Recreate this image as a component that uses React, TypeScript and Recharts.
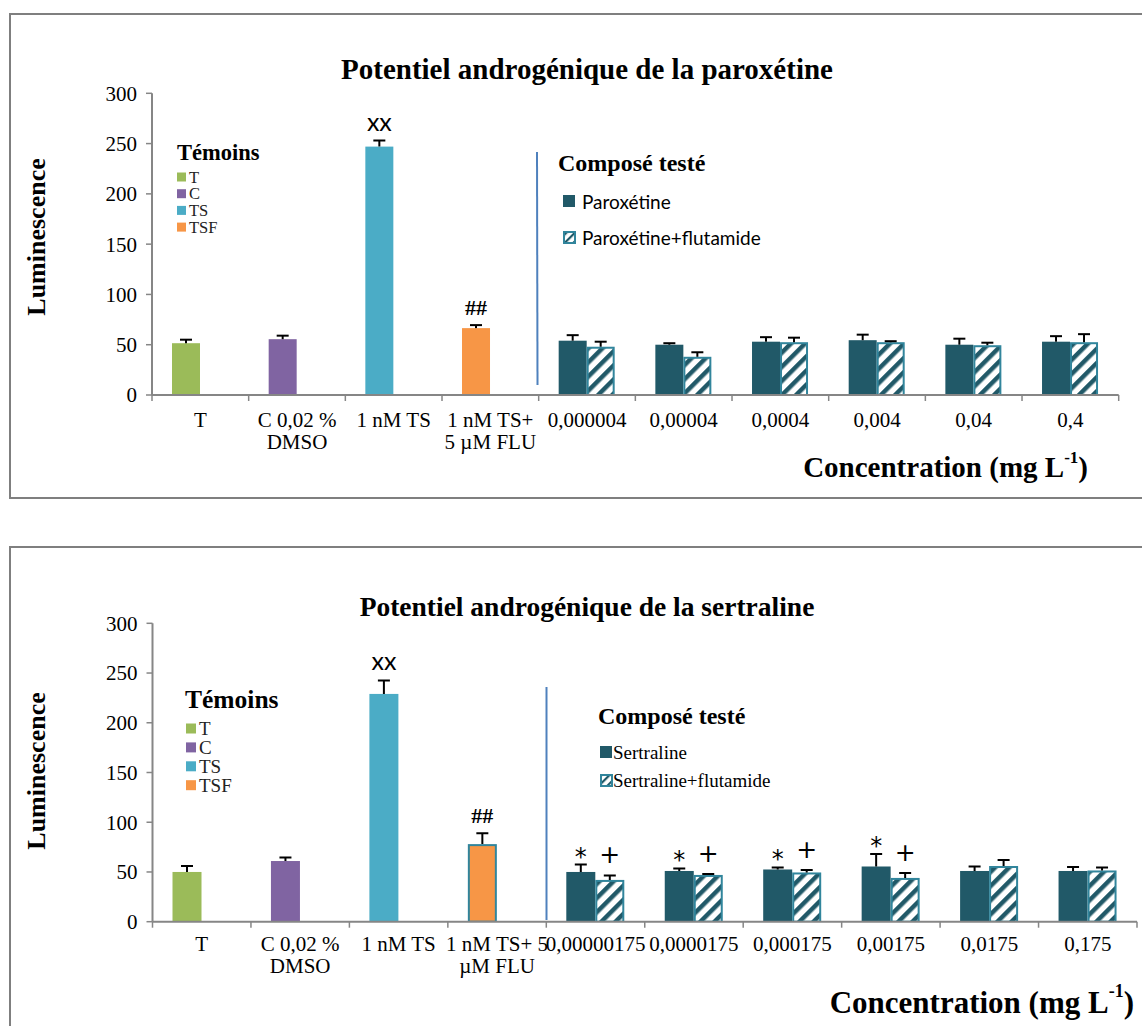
import React from 'react';
import { BarChart, Bar, XAxis, YAxis, Cell } from 'recharts';

// ---------- DATA ----------
const parCategories = ['T', 'C 0,02 %|DMSO', '1 nM TS', '1 nM TS+|5 µM FLU', '0,000004', '0,00004', '0,0004', '0,004', '0,04', '0,4'];
const parMain = [51.5, 55.5, 247, 66.5, 54, 50, 53, 54.5, 50, 53];
const parMainErr = [3.5, 3.5, 6, 3, 5.5, 1.5, 4.5, 5.5, 6, 5.5];
const parFlu = [null, null, null, null, 48, 38, 52.5, 52.5, 49.5, 52.5];
const parFluErr = [0, 0, 0, 0, 5, 4.5, 4.5, 1, 2.5, 8];
const parMainMarks = ['', '', 'xx', '##', '', '', '', '', '', ''];
const parFluMarks = ['', '', '', '', '', '', '', '', '', ''];

const serCategories = ['T', 'C 0,02 %|DMSO', '1 nM TS', '1 nM TS+ 5|µM FLU', '0,00000175', '0,0000175', '0,000175', '0,00175', '0,0175', '0,175'];
const serMain = [50, 61, 229, 78, 50, 51, 52.5, 55.5, 51, 51];
const serMainErr = [6, 3.5, 13.5, 11, 7.5, 2.5, 2, 12.5, 4.5, 4];
const serFlu = [null, null, null, null, 42, 47, 49.5, 44, 56, 51.5];
const serFluErr = [0, 0, 0, 0, 4.5, 1, 2.5, 5, 6, 3];
const serMainMarks = ['', '', 'xx', '##', '*', '*', '*', '*', '', ''];
const serFluMarks = ['', '', '', '', '+', '+', '+', '+', '', ''];

const yTicks = [0, 50, 100, 150, 200, 250, 300];
const controlLegend = ['T', 'C', 'TS', 'TSF'];

// ---------- STYLES ----------
const controlColors = ['#9bbb59', '#8064a2', '#4bacc6', '#f79646'];
const DARK = '#215968';
const TEAL = '#31859c';
const AXIS = '#868686';
const SERIF = '"Liberation Serif", "Times New Roman", serif';
const SANS = 'Lato, "Liberation Sans", sans-serif';
const SYM = '"DejaVu Sans", "Liberation Sans", sans-serif';

function buildRows(cats, main, mainErr, flu, fluErr, mainMarks, fluMarks) {
  return cats.map((c, i) => ({
    cat: c,
    main: main[i],
    mainErr: mainErr[i],
    flu: flu[i],
    fluErr: fluErr[i],
    mainMark: mainMarks[i],
    fluMark: fluMarks[i],
  }));
}

function markStyle(m) {
  if (m === '##') return { fontFamily: SERIF, fontWeight: 700, fontSize: 22, gap: 10 };
  if (m === 'xx') return { fontFamily: SANS, fontWeight: 400, fontSize: 25, gap: 10 };
  if (m === '*') return { fontFamily: SYM, fontWeight: 400, fontSize: 24, gap: 0 };
  return { fontFamily: SYM, fontWeight: 400, fontSize: 25, gap: 12 };
}

function makeShape(valueKey, errKey, markKey, fillFor, strokeFor) {
  return (props) => {
    const { x, y, width, height, payload, index } = props;
    const value = payload[valueKey];
    if (value == null || !height) return null;
    const pxPerUnit = height / value;
    const errPx = (payload[errKey] || 0) * pxPerUnit;
    const cx = x + width / 2;
    const capY = y - errPx;
    const fill = fillFor(index);
    const stroke = strokeFor(index);
    const mark = payload[markKey];
    const ms = markStyle(mark);
    return (
      <g>
        {stroke ? (
          <rect x={x + 1} y={y + 1} width={width - 2} height={height - 1} fill={fill} stroke={stroke} strokeWidth={2} />
        ) : (
          <rect x={x} y={y} width={width} height={height} fill={fill} />
        )}
        {errPx > 0 && (
          <g stroke="#000" strokeWidth={2}>
            <line x1={cx} y1={y} x2={cx} y2={capY} />
            <line x1={cx - 6} y1={capY} x2={cx + 6} y2={capY} />
          </g>
        )}
        {mark && (
          <text x={cx} y={capY - ms.gap} textAnchor="middle" fill="#000" fontFamily={ms.fontFamily} fontWeight={ms.fontWeight} fontSize={ms.fontSize}>
            {mark}
          </text>
        )}
      </g>
    );
  };
}

function CatTick(props) {
  const { x, y, payload, index, visibleTicksCount, lineGap, firstDy, fontSize } = props;
  const half = payload.offset || 0;
  const lines = String(payload.value).split('|');
  const last = index === visibleTicksCount - 1;
  return (
    <g>
      <line x1={x - half} y1={y} x2={x - half} y2={y + 6} stroke={AXIS} strokeWidth={1.5} />
      {last && <line x1={x + half} y1={y} x2={x + half} y2={y + 6} stroke={AXIS} strokeWidth={1.5} />}
      <text x={x} y={y + firstDy} textAnchor="middle" fill="#000" fontFamily={SERIF} fontSize={fontSize}>
        {lines.map((l, i) => (
          <tspan key={i} x={x} dy={i === 0 ? 0 : lineGap}>
            {l}
          </tspan>
        ))}
      </text>
    </g>
  );
}

function Panel({ top, height, plotTop, plotBottom, plotLeft, plotRight, rows, barSize, tickDy, orangeBorder }) {
  const yAxisWidth = 60;
  const xAxisHeight = 60;
  const margin = {
    top: plotTop,
    left: plotLeft - yAxisWidth,
    right: 1142 - plotRight,
    bottom: height - plotBottom - xAxisHeight,
  };
  const mainFill = (i) => (i < 4 ? controlColors[i] : DARK);
  const mainStroke = (i) => (orangeBorder && i === 3 ? TEAL : null);
  return (
    <div style={{ position: 'absolute', left: 0, top, width: 1142, height }}>
      <BarChart width={1142} height={height} data={rows} margin={margin} barGap={0} barSize={barSize}>
        <defs>
          <pattern id={'hatch' + top} width="10" height="10" patternUnits="userSpaceOnUse" patternTransform="rotate(45)">
            <rect width="10" height="10" fill="#fff" />
            <rect width="4.5" height="10" fill={DARK} />
          </pattern>
        </defs>
        <XAxis
          dataKey="cat"
          height={xAxisHeight}
          interval={0}
          tickLine={false}
          tickSize={0}
          tickMargin={0}
          axisLine={{ stroke: AXIS, strokeWidth: 2 }}
          tick={<CatTick lineGap={22} firstDy={tickDy} fontSize={21} />}
        />
        <YAxis
          width={yAxisWidth}
          domain={[0, 300]}
          ticks={yTicks}
          interval={0}
          allowDataOverflow
          axisLine={{ stroke: AXIS, strokeWidth: 2 }}
          tickLine={{ stroke: AXIS, strokeWidth: 1.5 }}
          tickSize={6}
          tickMargin={9}
          tick={{ fill: '#000', fontFamily: SERIF, fontSize: 21 }}
        />
        <Bar dataKey="main" isAnimationActive={false} shape={makeShape('main', 'mainErr', 'mainMark', mainFill, mainStroke)}>
          {rows.map((r, i) => (
            <Cell key={i} fill={mainFill(i)} />
          ))}
        </Bar>
        <Bar
          dataKey="flu"
          isAnimationActive={false}
          shape={makeShape('flu', 'fluErr', 'fluMark', () => `url(#hatch${top})`, () => TEAL)}
        />
      </BarChart>
    </div>
  );
}

function Overlay() {
  const legendItem = (x, y, size, color, label, fs) => (
    <g key={label + y}>
      <rect x={x} y={y - size / 2} width={size} height={size} fill={color} />
      <text x={x + size + 3} y={y} dominantBaseline="central" fontFamily={SERIF} fontSize={fs} fill="#222">
        {label}
      </text>
    </g>
  );
  return (
    <svg width={1142} height={1026} style={{ position: 'absolute', left: 0, top: 0, pointerEvents: 'none' }}>
      <defs>
        <pattern id="hatchLeg" width="6" height="6" patternUnits="userSpaceOnUse" patternTransform="rotate(45)">
          <rect width="6" height="6" fill="#fff" />
          <rect width="2.2" height="6" fill={DARK} />
        </pattern>
      </defs>
      {/* frames */}
      <rect x={10} y={14} width={1150} height={484} fill="none" stroke="#7f7f7f" strokeWidth={2} />
      <rect x={10} y={547} width={1150} height={500} fill="none" stroke="#7f7f7f" strokeWidth={2} />

      {/* ---- top panel ---- */}
      <text x={587} y={69} textAnchor="middle" dominantBaseline="central" fontFamily={SERIF} fontWeight={700} fontSize={29}>
        Potentiel androgénique de la paroxétine
      </text>
      <text transform="translate(36,237) rotate(-90)" textAnchor="middle" dominantBaseline="central" fontFamily={SERIF} fontWeight={700} fontSize={26}>
        Luminescence
      </text>
      <text x={1088} y={467} textAnchor="end" dominantBaseline="central" fontFamily={SERIF} fontWeight={700} fontSize={29}>
        Concentration (mg L<tspan dy={-10} fontSize={17}>-1</tspan><tspan dy={10}>)</tspan>
      </text>
      <text x={177} y={152} dominantBaseline="central" fontFamily={SERIF} fontWeight={700} fontSize={22.5}>
        Témoins
      </text>
      {controlLegend.map((l, i) => legendItem(177, 177 + i * 16.7, 9, controlColors[i], l, 16.5))}
      <line x1={537} y1={152} x2={537.5} y2={385} stroke="#4f81bd" strokeWidth={2} />
      <text x={558} y={163} dominantBaseline="central" fontFamily={SERIF} fontWeight={700} fontSize={24}>
        Composé testé
      </text>
      <rect x={563} y={195} width={12} height={12} fill={DARK} />
      <text x={582} y={201} dominantBaseline="central" fontFamily={SANS} fontSize={19}>
        Paroxétine
      </text>
      <rect x={564} y={232} width={11} height={11} fill="url(#hatchLeg)" stroke={TEAL} strokeWidth={2} />
      <text x={582} y={237} dominantBaseline="central" fontFamily={SANS} fontSize={19}>
        Paroxétine+flutamide
      </text>

      {/* ---- bottom panel ---- */}
      <text x={587} y={606} textAnchor="middle" dominantBaseline="central" fontFamily={SERIF} fontWeight={700} fontSize={27.5}>
        Potentiel androgénique de la sertraline
      </text>
      <text transform="translate(36,771) rotate(-90)" textAnchor="middle" dominantBaseline="central" fontFamily={SERIF} fontWeight={700} fontSize={26}>
        Luminescence
      </text>
      <text x={1134} y={1002} textAnchor="end" dominantBaseline="central" fontFamily={SERIF} fontWeight={700} fontSize={31}>
        Concentration (mg L<tspan dy={-11} fontSize={18}>-1</tspan><tspan dy={11}>)</tspan>
      </text>
      <text x={185} y={699} dominantBaseline="central" fontFamily={SERIF} fontWeight={700} fontSize={25.5}>
        Témoins
      </text>
      {controlLegend.map((l, i) => legendItem(186, 728.5 + i * 18.9, 10, controlColors[i], l, 19))}
      <line x1={546.5} y1={687} x2={546.5} y2={920} stroke="#4f81bd" strokeWidth={2} />
      <text x={598} y={716} dominantBaseline="central" fontFamily={SERIF} fontWeight={700} fontSize={24}>
        Composé testé
      </text>
      <rect x={600} y={746} width={12} height={12} fill={DARK} />
      <text x={613} y={752} dominantBaseline="central" fontFamily={SERIF} fontSize={19}>
        Sertraline
      </text>
      <rect x={601} y={775} width={11} height={11} fill="url(#hatchLeg)" stroke={TEAL} strokeWidth={2} />
      <text x={613} y={780} dominantBaseline="central" fontFamily={SERIF} fontSize={19}>
        Sertraline+flutamide
      </text>
    </svg>
  );
}

export default function App() {
  const parRows = buildRows(parCategories, parMain, parMainErr, parFlu, parFluErr, parMainMarks, parFluMarks);
  const serRows = buildRows(serCategories, serMain, serMainErr, serFlu, serFluErr, serMainMarks, serFluMarks);
  return (
    <div style={{ position: 'absolute', left: 0, top: 0, width: 1142, height: 1026, background: '#fff', overflow: 'hidden' }}>
      <Panel top={0} height={500} plotTop={93.3} plotBottom={395} plotLeft={152} plotRight={1118.7} rows={parRows} barSize={28} tickDy={32} />
      <Panel top={530} height={496} plotTop={93.3} plotBottom={391.7} plotLeft={152.5} plotRight={1137} rows={serRows} barSize={29} tickDy={29} orangeBorder />
      <Overlay />
    </div>
  );
}
